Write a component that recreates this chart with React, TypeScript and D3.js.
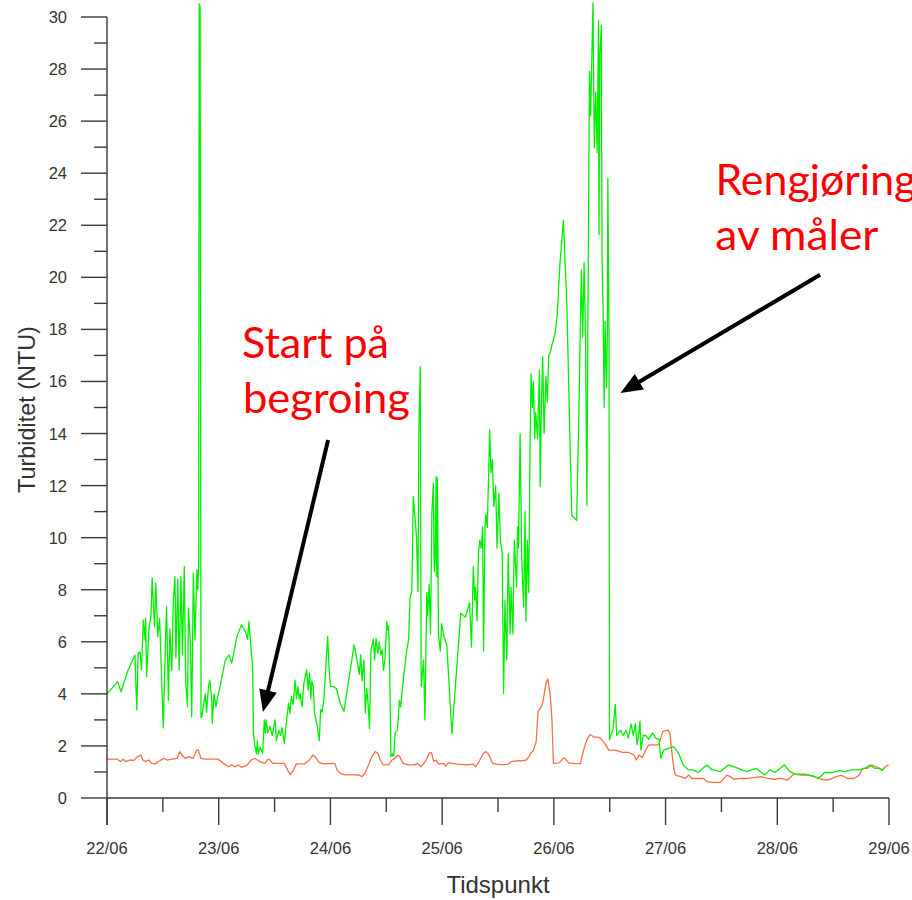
import React from "react";
import * as d3 from "d3";

// ---------- data (hours since 22/06 00:00, NTU) ----------
const greenSeries: [number, number][] = [
  [0,4.0],[2.3,4.47],[3.0,4.08],[4.5,4.9],[6.0,5.49],[6.4,3.38],[6.7,5.57],[7.1,5.6],[7.4,4.92],[7.8,6.84],[8.2,6.07],[8.3,6.9],[8.5,4.66],[9.0,6.45],[9.45,7.03],[9.7,8.45],[10.2,6.58],[10.5,8.26],[10.9,6.2],[11.3,6.9],[11.75,4.53],[12.1,2.69],[12.5,5.69],[12.8,7.35],[13.2,3.76],[13.5,6.5],[13.9,4.9],[14.25,7.54],[14.6,8.5],[14.8,5.4],[15.2,8.4],[15.5,4.92],[15.9,8.5],[16.2,5.5],[16.6,8.89],[16.9,4.53],[17.3,3.5],[17.5,7.3],[17.9,6.0],[18.2,3.12],[18.55,8.63],[18.9,6.07],[19.3,8.76],[19.5,8.0],[19.7,9.0],[19.8,30.5],[20.0,30.4],[20.2,3.1],
  [20.35,3.1],[20.7,3.5],[21.1,4.0],[21.4,3.3],[21.8,4.28],[22.1,4.53],[22.5,3.8],[22.6,2.87],[23.0,4.0],[23.4,3.5],[23.8,3.9],[24.3,4.28],[25.4,5.3],[26.2,5.49],[26.8,5.18],[27.9,6.2],[28.9,6.65],[29.7,6.4],[30.2,6.1],[30.5,6.77],[30.8,6.05],[31.1,5.43],[31.3,5.0],[31.45,2.5],[31.8,1.97],[32.1,1.7],[32.3,2.2],[32.5,1.7],[32.9,1.95],[33.45,1.72],[33.8,3.0],[34.0,2.5],[34.2,3.0],[34.5,2.5],[35.0,2.75],[35.5,2.4],[36.1,3.0],[36.4,2.2],[36.9,2.6],[37.3,2.4],[37.6,2.7],[38.1,2.1],[38.6,3.0],[39.0,3.64],[39.3,3.25],[39.6,3.9],[40.0,3.6],[40.4,4.53],[40.7,3.8],[41.0,4.28],[41.3,3.8],[41.5,4.0],[41.9,3.5],[42.3,4.4],[42.9,4.92],[43.2,4.15],[43.5,4.8],[43.8,3.8],[44.0,4.5],[44.3,4.3],[44.6,3.25],[45.2,2.74],[45.6,2.2],[45.9,3.4],[46.2,3.3],[46.6,3.8],[47.4,6.2],[47.7,5.0],[48.0,4.3],
  [48.6,4.28],[49.3,4.2],[50.1,3.64],[50.9,3.32],[51.9,4.5],[53.1,5.88],[53.6,5.4],[54.2,4.76],[54.5,5.5],[54.8,4.5],[55.2,5.3],[55.5,3.26],[55.8,4.2],[56.1,3.6],[56.4,2.67],[56.7,5.69],[57.2,6.1],[57.5,5.3],[57.8,6.13],[58.2,5.55],[58.5,6.0],[58.8,5.5],[59.1,5.7],[59.4,4.9],[59.7,5.3],[60.1,6.77],[60.3,6.45],[60.5,6.6],[60.7,5.3],[61.0,1.59],[61.3,1.7],[61.6,1.6],[61.9,2.5],[62.4,2.6],[62.8,3.75],[63.1,3.5],[63.5,4.3],[64.3,5.56],[64.8,6.08],[65.1,7.67],[65.5,8.0],[65.8,11.58],[66.2,10.7],[66.5,10.0],[66.8,7.93],[67.0,14.14],[67.3,16.57],[67.5,4.28],[68.0,5.3],[68.3,3.0],[68.7,7.9],[68.9,7.0],[69.2,8.2],[69.5,6.3],[69.8,10.94],[70.1,12.1],[70.3,8.7],[70.5,9.2],[70.7,12.34],[70.85,8.5],[71.0,12.3],[71.2,6.3],[71.6,5.65],[71.9,6.7],[72.4,6.2],[73.0,5.88],[74.1,2.48],[76.0,7.1],[77.0,6.95],[77.9,7.5],[78.3,5.8],[78.7,8.89],[79.0,7.6],[79.2,8.1],[79.5,6.8],[79.8,9.4],[80.1,9.9],[80.4,9.6],[80.7,10.42],[80.9,5.65],[81.2,10.4],[81.4,10.9],[81.7,10.4],[82.0,12.47],[82.2,14.14],[82.5,12.5],[82.8,13.0],[83.1,11.2],[83.5,12.0],[83.8,9.6],[84.2,11.7],[84.5,9.9],[84.9,9.4],[85.2,4.02],[85.5,7.6],[85.9,5.3],[86.2,9.4],[86.6,6.3],[86.8,8.1],[87.2,6.3],[87.5,9.9],[88.0,8.1],[88.2,10.42],[88.4,9.6],[88.75,14.0],[89.1,9.2],[89.5,7.35],[89.8,11.0],[90.0,6.8],[90.3,9.9],[90.6,7.9],[90.9,13.75],[91.1,16.3],[91.4,15.0],[91.6,16.0],[91.9,13.8],[92.1,14.8],[92.5,13.8],[92.9,16.44],[93.05,11.96],[93.3,14.8],[93.6,16.95],[93.9,14.0],[94.3,16.2],[94.6,15.2],[94.9,17.0],[95.2,17.08],[95.5,17.35],[95.9,17.6],
  [96.3,17.9],[96.7,18.5],[97.3,20.5],[98.05,22.19],[98.8,18.9],[99.3,15.0],[99.85,10.86],[100.9,10.67],[101.4,15.0],[101.9,20.28],[102.2,17.7],[102.5,20.56],[102.8,17.7],[103.1,11.25],[103.3,17.9],[103.65,27.9],[103.9,26.2],[104.4,30.55],[104.7,24.97],[105.0,27.1],[105.3,24.8],[105.6,29.87],[105.7,21.64],[105.9,28.6],[106.2,29.68],[106.35,20.86],[106.6,18.5],[106.8,15.0],[107.0,18.3],[107.3,15.75],[107.5,17.9],[107.6,23.8],[107.85,17.7],[107.95,2.23],[108.2,2.4],[108.7,2.6],[109.2,3.6],[109.5,2.4],[110.3,2.6],[110.9,2.4],[111.5,2.6],[112.0,2.3],[112.6,2.85],[113.1,2.4],[113.5,2.85],[113.9,2.05],[114.2,2.4],[114.5,2.95],[114.7,1.84],[115.2,2.4],[115.8,2.4],[116.4,2.25],[117.2,2.5],[117.9,2.3],[118.6,2.25],[118.8,1.84],[119.0,1.52],[119.6,1.84],[120.6,1.91],[121.7,1.97],[122.8,1.72],[123.8,1.27],[124.9,1.08],[125.9,1.08],[127.0,0.98],[128.8,1.27],[129.9,1.1],[131.7,1.01],[133.5,1.27],[135.6,1.14],[137.4,1.01],[139.5,1.14],[140.6,0.98],[141.3,0.88],[142.4,1.08],[143.5,0.98],[145.5,1.27],[146.7,1.01],[147.8,0.92],[149.9,0.92],[151.7,0.85],[152.8,0.75],[154.2,0.98],[156.0,0.98],[157.4,1.05],[158.5,1.01],[159.9,1.08],[161.4,1.08],[162.8,1.14],[163.9,1.27],[164.9,1.14],[166.0,1.14],[166.5,1.05],[167.0,1.15]
];

const orangeSeries: [number, number][] = [
  [0,1.49],[2.2,1.49],[2.9,1.4],[3.5,1.49],[4.0,1.4],[5.0,1.46],[5.7,1.44],[6.6,1.59],[7.3,1.65],[7.7,1.46],[8.4,1.4],[9.0,1.46],[9.6,1.33],[10.4,1.31],[11.1,1.4],[12.2,1.52],[12.9,1.46],[14.0,1.49],[15.1,1.52],[15.6,1.78],[16.1,1.65],[16.8,1.52],[17.6,1.59],[18.5,1.52],[19.2,1.82],[19.6,1.85],[20.2,1.52],[21.1,1.49],[23.9,1.49],[25.0,1.33],[26.1,1.2],[26.8,1.27],[27.5,1.2],[28.2,1.27],[28.9,1.18],[30.0,1.25],[31.0,1.46],[31.8,1.52],[32.8,1.4],[33.9,1.33],[34.6,1.49],[35.0,1.46],[35.6,1.33],[36.7,1.33],[38.1,1.33],[38.8,1.08],[39.4,0.9],[39.9,1.02],[40.7,1.31],[42.4,1.31],[43.5,1.46],[44.2,1.65],[44.7,1.59],[45.6,1.36],[46.6,1.31],[48.2,1.33],[49.0,1.31],[49.4,1.08],[50.1,0.95],[51.2,0.89],[52.6,0.89],[54.0,0.89],[54.8,0.82],[55.4,0.95],[56.2,1.27],[56.9,1.59],[57.6,1.78],[58.2,1.72],[58.7,1.46],[59.4,1.27],[60.5,1.27],[61.2,1.46],[61.9,1.52],[62.4,1.65],[62.9,1.59],[63.6,1.33],[64.7,1.27],[66.1,1.27],[66.7,1.33],[67.4,1.2],[68.4,1.4],[69.2,1.72],[69.7,1.74],[70.2,1.4],[70.7,1.46],[71.2,1.3],[72.3,1.33],[72.7,1.23],[73.4,1.36],[75.2,1.3],[77.3,1.27],[78.7,1.3],[79.2,1.2],[80.0,1.43],[80.9,1.72],[81.4,1.78],[82.1,1.65],[82.8,1.33],[83.7,1.3],[85.1,1.27],[86.2,1.3],[86.9,1.4],[88.0,1.43],[89.0,1.43],[90.1,1.46],[90.7,1.61],[91.1,1.74],[91.6,1.82],[92.2,2.16],[92.6,3.32],[93.1,3.45],[93.6,3.64],[94.0,4.08],[94.3,4.4],[94.7,4.57],[95.2,4.0],[95.6,2.98],[95.9,1.33],[97.1,1.35],[98.2,1.55],[98.5,1.5],[99.2,1.35],[100.6,1.32],[101.7,1.32],[102.4,1.85],[103.1,2.24],[103.8,2.44],[104.6,2.34],[105.6,2.34],[106.3,2.24],[107.1,2.05],[107.8,1.84],[109.2,1.84],[110.7,1.75],[112.1,1.75],[113.2,1.65],[113.7,1.46],[114.3,1.65],[115.0,1.55],[115.7,1.84],[116.4,2.04],[118.5,2.04],[119.4,2.55],[120.5,2.62],[120.9,2.5],[121.7,1.2],[122.1,0.88],[123.2,0.82],[124.2,0.75],[125.0,0.88],[125.7,0.75],[126.8,0.75],[128.2,0.75],[128.9,0.63],[130.3,0.6],[131.8,0.6],[132.5,0.75],[133.2,0.88],[133.9,0.82],[134.7,0.72],[136.1,0.75],[137.6,0.75],[139.0,0.78],[140.5,0.82],[141.9,0.75],[143.3,0.72],[144.8,0.75],[146.2,0.69],[147.6,0.92],[149.1,0.88],[150.5,0.88],[151.9,0.82],[153.4,0.72],[154.8,0.69],[156.2,0.78],[157.7,0.88],[159.1,0.75],[160.5,0.75],[161.6,0.88],[162.3,1.14],[163.4,1.14],[164.3,1.27],[165.2,1.2],[165.9,1.14],[166.5,1.08],[167.2,1.2],[167.9,1.27]
];

const yMajorTicks = [0, 2, 4, 6, 8, 10, 12, 14, 16, 18, 20, 22, 24, 26, 28, 30];
const yMinorTicks = [1, 3, 5, 7, 9, 11, 13, 15, 17, 19, 21, 23, 25, 27, 29];
const xTitle = "Tidspunkt";
const yTitle = "Turbiditet (NTU)";

// annotation anchors in data units [hour, NTU]
const arrows: { from: [number, number]; to: [number, number] }[] = [
  { from: [47.5, 13.75], to: [33.5, 3.3] },
  { from: [153.2, 20.1], to: [110.3, 15.56] },
];
const labels: { text: string; at: [number, number]; len: number }[] = [
  { text: "Start på", at: [29.0, 16.9], len: 147 },
  { text: "begroing", at: [29.2, 14.8], len: 167 },
  { text: "Rengjøring", at: [130.7, 23.15], len: 201 },
  { text: "av måler", at: [130.7, 21.05], len: 163 },
];

const START = Date.UTC(2015, 5, 22);
const END = Date.UTC(2015, 5, 29);
const toDate = (h: number) => new Date(START + h * 3600e3);

export default function App() {
  const left = 107, right = 889, top = 17, bottom = 798;
  const x = d3.scaleUtc().domain([new Date(START), new Date(END)]).range([left, right]);
  const y = d3.scaleLinear().domain([0, 30]).range([bottom, top]);
  const xTicks = x.ticks(d3.utcHour.every(12)!);
  const fmt = d3.utcFormat("%d/%m");
  const line = d3
    .line<[number, number]>()
    .x((d) => x(toDate(d[0])))
    .y((d) => y(d[1]));
  const axisColor = "#3a3a3a";
  const tickFont = "'Liberation Sans', Arial, sans-serif";

  return (
    <svg
      width={912}
      height={900}
      style={{ position: "absolute", left: 0, top: 0, background: "#fff" }}
    >
      <rect x={0} y={0} width={912} height={900} fill="#fff" />
      {/* series */}
      <path d={line(orangeSeries) || ""} fill="none" stroke="#ff6e45" strokeWidth={1.3} strokeLinejoin="round" />
      <path d={line(greenSeries) || ""} fill="none" stroke="#00f000" strokeWidth={1.3} strokeLinejoin="round" />

      {/* y axis */}
      <line x1={left} x2={left} y1={y(30)} y2={bottom + 27} stroke={axisColor} strokeWidth={1.4} />
      {yMajorTicks.map((t) => (
        <g key={"ym" + t}>
          <line x1={left - 26} x2={left} y1={y(t)} y2={y(t)} stroke={axisColor} strokeWidth={1.4} />
          <text
            x={67}
            y={y(t)}
            textAnchor="end"
            dominantBaseline="central"
            fontFamily={tickFont}
            fontSize={16.5}
            fill="#333"
          >
            {t}
          </text>
        </g>
      ))}
      {yMinorTicks.map((t) => (
        <line key={"yn" + t} x1={left - 13} x2={left} y1={y(t)} y2={y(t)} stroke={axisColor} strokeWidth={1.4} />
      ))}

      {/* x axis */}
      <line x1={left} x2={right} y1={bottom} y2={bottom} stroke={axisColor} strokeWidth={1.4} />
      {xTicks.map((t) => {
        const major = t.getUTCHours() === 0;
        const px = x(t);
        return (
          <g key={t.getTime()}>
            <line x1={px} x2={px} y1={bottom} y2={bottom + (major ? 27 : 14)} stroke={axisColor} strokeWidth={1.4} />
            {major && (
              <text x={px} y={854} textAnchor="middle" fontFamily={tickFont} fontSize={16.5} fill="#333">
                {fmt(t)}
              </text>
            )}
          </g>
        );
      })}

      {/* titles */}
      <text x={(left + right) / 2} y={893} textAnchor="middle" fontFamily={tickFont} fontSize={24} fill="#333">
        {xTitle}
      </text>
      <text
        transform={`translate(35, ${(top + bottom) / 2 + 2}) rotate(-90)`}
        textAnchor="middle"
        fontFamily={tickFont}
        fontSize={23.4}
        fill="#333"
      >
        {yTitle}
      </text>

      {/* annotations */}
      {arrows.map((a, i) => {
        const x0 = x(toDate(a.from[0])), y0 = y(a.from[1]);
        const x1 = x(toDate(a.to[0])), y1 = y(a.to[1]);
        const dx = x1 - x0, dy = y1 - y0;
        const L = Math.hypot(dx, dy);
        const ux = dx / L, uy = dy / L;
        const headLen = 22, headW = 9;
        const bx = x1 - ux * headLen, by = y1 - uy * headLen;
        const pts = [
          [x1, y1],
          [bx - uy * headW, by + ux * headW],
          [bx + uy * headW, by - ux * headW],
        ];
        return (
          <g key={"arr" + i}>
            <line x1={x0} y1={y0} x2={bx + ux * 2} y2={by + uy * 2} stroke="#000" strokeWidth={4} />
            <polygon points={pts.map((p) => p.join(",")).join(" ")} fill="#000" />
          </g>
        );
      })}
      {labels.map((l, i) => (
        <text
          key={"lab" + i}
          x={x(toDate(l.at[0]))}
          y={y(l.at[1])}
          fontFamily="Lato, 'Open Sans', sans-serif"
          fontSize={43}
          fill="#ff0000"
          textLength={l.len}
          lengthAdjust="spacingAndGlyphs"
        >
          {l.text}
        </text>
      ))}
    </svg>
  );
}
